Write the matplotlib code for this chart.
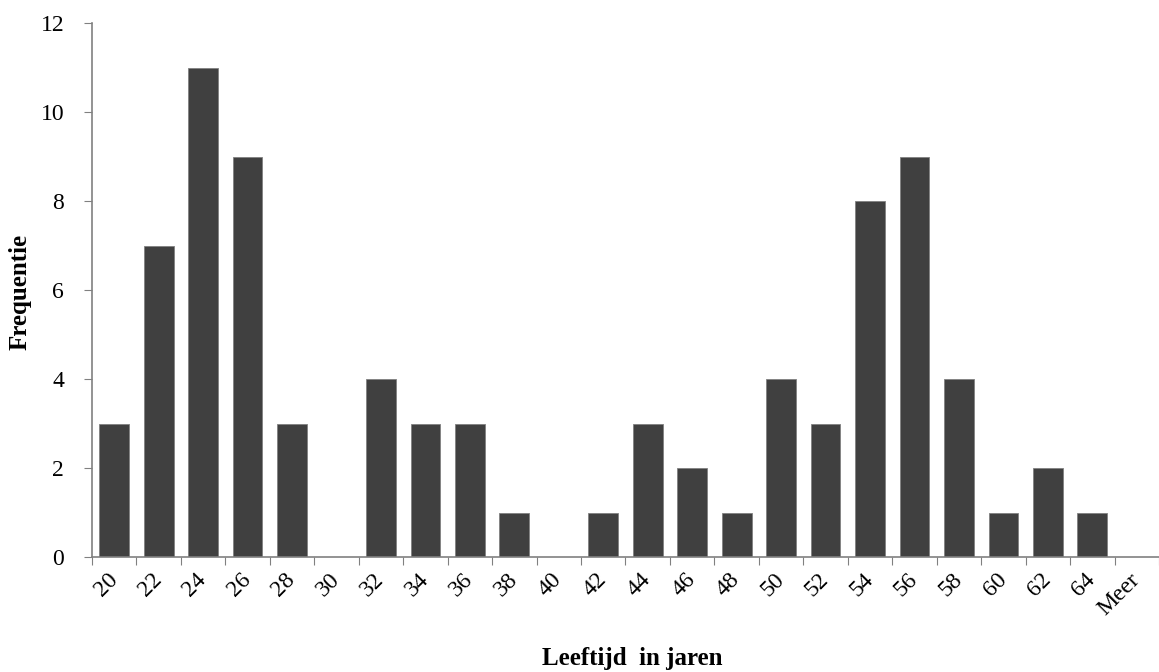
import matplotlib
matplotlib.use("Agg")
import matplotlib.pyplot as plt
import numpy as np

categories = ["20", "22", "24", "26", "28", "30", "32", "34", "36", "38", "40", "42",
              "44", "46", "48", "50", "52", "54", "56", "58", "60", "62", "64", "Meer"]
frequencies = [3, 7, 11, 9, 3, 0, 4, 3, 3, 1, 0, 1, 3, 2, 1, 4, 3, 8, 9, 4, 1, 2, 1, 0]

plt.rcParams['font.family'] = ['Liberation Serif', 'DejaVu Serif']

fig = plt.figure(figsize=(11.59, 6.72), dpi=100)
ax = fig.add_axes([92/1159, 1 - 557/672, 1 - 92/1159, (557 - 23)/672])

x = np.arange(len(categories))
ax.bar(x, frequencies, width=0.67, color="#404040", edgecolor="#808080", linewidth=0.6, zorder=2)

ax.set_xlim(-0.5, len(categories) - 0.5)
ax.set_ylim(0, 12)
ax.set_yticks(np.arange(0, 13, 2))
ax.set_yticklabels([str(t) for t in range(0, 13, 2)], fontsize=17)

# tick marks at category boundaries, labels at category centers
ax.set_xticks(np.arange(-0.5, len(categories) - 0.5 + 0.01, 1.0))
ax.set_xticklabels([])
ax.set_xticks(x, minor=True)
ax.set_xticklabels(categories, minor=True, rotation=45, ha="right", va="center",
                   rotation_mode="anchor", fontsize=17)
ax.tick_params(axis="x", which="minor", length=0, pad=14)
ax.tick_params(axis="x", which="major", length=6, color="#808080", direction="out")
ax.tick_params(axis="y", length=6, color="#808080", direction="out", pad=14)

for s in ["top", "right"]:
    ax.spines[s].set_visible(False)
for s in ["left", "bottom"]:
    ax.spines[s].set_color("#808080")
    ax.spines[s].set_linewidth(1.2)

fig.text(20/1159, 1 - 292/672, "Frequentie", rotation=90, ha="center", va="center",
         fontsize=18, fontweight="bold")
fig.text(632/1159, 1 - 659/672, "Leeftijd  in jaren", ha="center", va="center",
         fontsize=18, fontweight="bold")

fig.savefig("out.png", dpi=100)
